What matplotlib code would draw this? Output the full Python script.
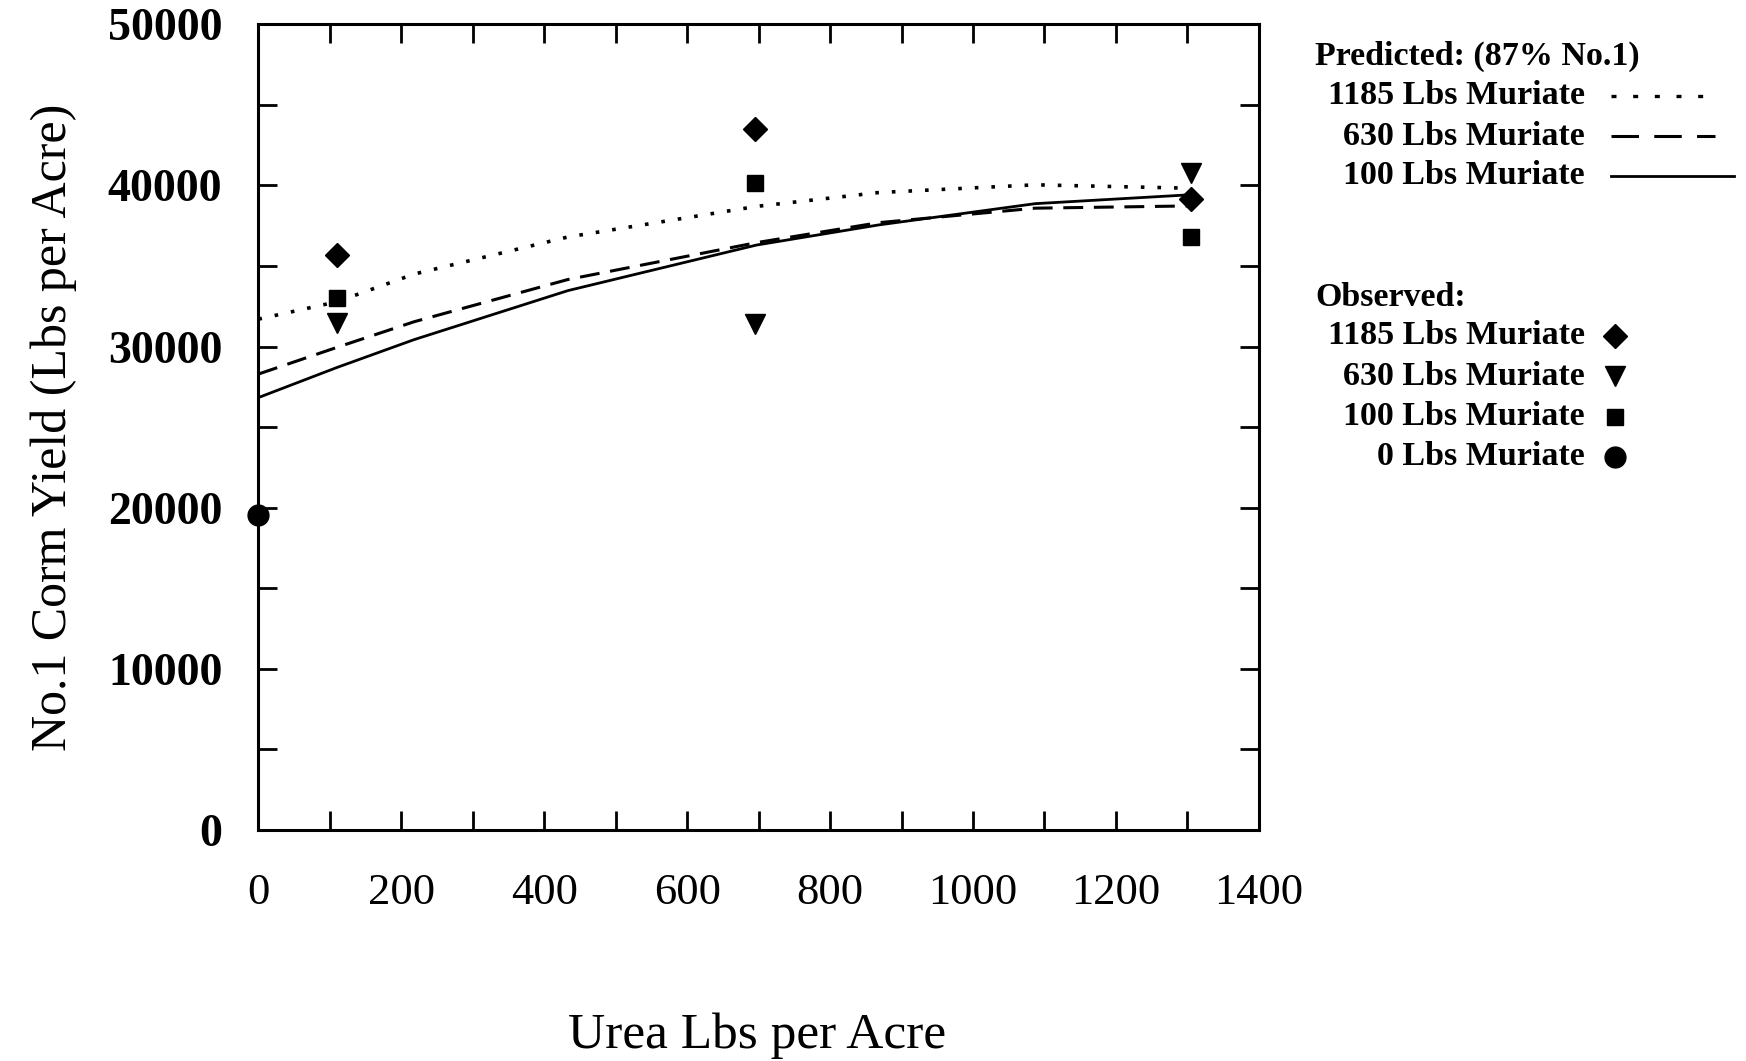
import numpy as np
import matplotlib.pyplot as plt
from matplotlib.lines import Line2D
from matplotlib.ticker import MultipleLocator

plt.rcParams['font.family'] = ['Liberation Serif', 'DejaVu Serif']

# predicted curves (87% No.1)
urea_pred = [0, 110, 218, 433, 697, 868, 1087, 1303]
pred_1185 = [31700, 32780, 34500, 36800, 38700, 39560, 40040, 39830]
pred_630 = [28290, 29950, 31540, 34160, 36450, 37690, 38590, 38730]
pred_100 = [26830, 28700, 30430, 33470, 36300, 37550, 38870, 39420]

# observed yields
urea_obs = [110, 695, 1305]
obs_1185 = [35680, 43500, 39140]
obs_630 = [31470, 31400, 40800]
obs_100 = [32990, 40180, 36790]
urea_obs_0 = [0]
obs_0 = [19570]

xticks = [0, 200, 400, 600, 800, 1000, 1200, 1400]
yticks = [0, 10000, 20000, 30000, 40000, 50000]

fig = plt.figure(figsize=(17.46, 10.61), dpi=100)
ax = fig.add_axes([0.148, 0.218, 0.573, 0.759])

ax.plot(urea_pred, pred_1185, color='black', lw=2.6, linestyle=(0, (1, 3.6)))
ax.plot(urea_pred, pred_630, color='black', lw=2.2, linestyle=(0, (6.5, 3.5)))
ax.plot(urea_pred, pred_100, color='black', lw=2.0, linestyle='-')

ax.plot(urea_obs, obs_1185, 'D', color='black', ms=12, clip_on=False)
ax.plot(urea_obs, obs_630, 'v', color='black', ms=14, clip_on=False)
ax.plot(urea_obs, obs_100, 's', color='black', ms=11, clip_on=False)
ax.plot(urea_obs_0, obs_0, 'o', color='black', ms=15, clip_on=False)

ax.set_xlim(0, 1400)
ax.set_ylim(0, 50000)
ax.set_xticks(xticks)
ax.set_yticks(yticks)
ax.xaxis.set_minor_locator(MultipleLocator(100))
ax.yaxis.set_minor_locator(MultipleLocator(5000))
ax.tick_params(which='both', direction='in', top=True, right=True, length=14, width=2)
ax.tick_params(axis='x', which='major', labelsize=32, pad=31)
ax.tick_params(axis='y', which='major', labelsize=33, pad=26)
for lab in ax.get_yticklabels():
    lab.set_fontweight('bold')
for sp in ax.spines.values():
    sp.set_linewidth(2.2)

ax.set_ylabel('No.1 Corm Yield (Lbs per Acre)', fontsize=36, labelpad=22)


def ftx(x):
    return x / 1746


def fty(y):
    return 1 - y / 1061


fig.text(ftx(757), fty(1036), 'Urea Lbs per Acre', fontsize=37, ha='center', va='center')

# legend block on the right
fs = 24.5
fw = 'bold'
fig.text(ftx(1315), fty(56), 'Predicted: (87% No.1)', fontsize=fs, fontweight=fw, va='center', ha='left')
pred_labels = ['1185 Lbs Muriate', '630 Lbs Muriate', '100 Lbs Muriate']
pred_styles = [((0, (1.5, 5)), 2.4, 1715), ((0, (9, 5)), 2.2, 1715), ('-', 2.0, 1734)]
for i, (lab, (ls, lw, xe)) in enumerate(zip(pred_labels, pred_styles)):
    y = 96 + 40 * i
    fig.text(ftx(1585), fty(y), lab, fontsize=fs, fontweight=fw, va='center', ha='right')
    fig.add_artist(Line2D([ftx(1611), ftx(xe)], [fty(y), fty(y)], color='black',
                          lw=lw, linestyle=ls, transform=fig.transFigure))

fig.text(ftx(1315), fty(297), 'Observed:', fontsize=fs, fontweight=fw, va='center', ha='left')
obs_labels = ['1185 Lbs Muriate', '630 Lbs Muriate', '100 Lbs Muriate', '0 Lbs Muriate']
obs_markers = [('D', 12), ('v', 14), ('s', 11), ('o', 15)]
for i, (lab, (mk, ms)) in enumerate(zip(obs_labels, obs_markers)):
    y = 336 + 40.3 * i
    fig.text(ftx(1585), fty(y), lab, fontsize=fs, fontweight=fw, va='center', ha='right')
    fig.add_artist(Line2D([ftx(1615)], [fty(y)], marker=mk, ms=ms, color='black',
                          linestyle='none', transform=fig.transFigure))

fig.savefig('out.png', dpi=100)
